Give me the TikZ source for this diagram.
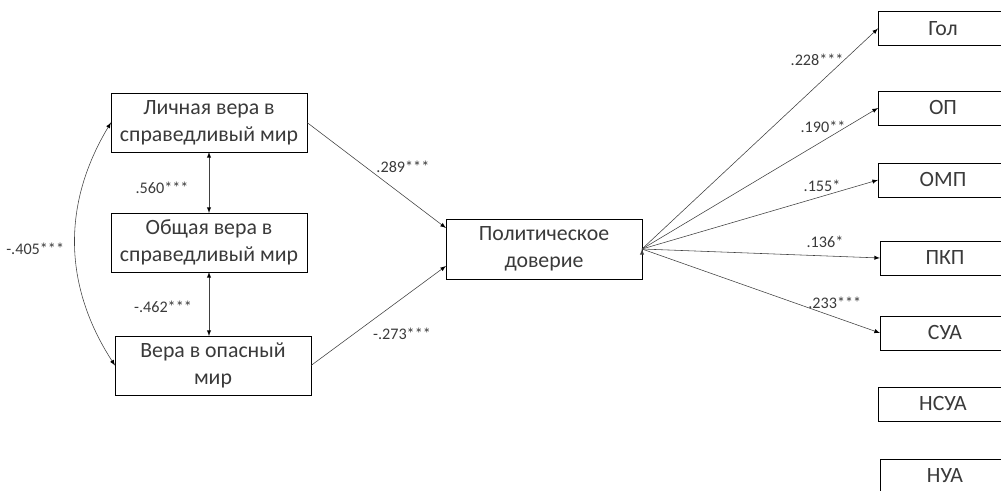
\documentclass[tikz,border=0pt]{standalone}
\usepackage{fontspec}
\setmainfont{Carlito}
\usepackage{xcolor}
\usetikzlibrary{arrows}
\usetikzlibrary{calc}
\usetikzlibrary{positioning}
\definecolor{txt}{HTML}{3A3A3A}

\begin{document}
\begin{tikzpicture}[x=0.025cm,y=-0.025cm,-latex,semithick]
	\tikzstyle{box}=[draw=black, thin, fill=white, text=txt, align=center, inner sep=0pt, outer sep=0pt, font=\fontsize{15.5}{19}\selectfont]
	\tikzstyle{big}=[box, minimum width=4.9cm, minimum height=1.475cm]
	\tikzstyle{small}=[box, minimum width=3.25cm, minimum height=0.85cm]
	\tikzstyle{lab}=[text=txt, inner sep=0pt, font=\fontsize{11.5}{13}\selectfont]
	\tikzstyle{line}=[draw=black!75, thin]
	\clip (0,0) rectangle (1001,491);
	\node[big] (lv) at (209,122.5) {Личная вера в\\справедливый мир};
	\node[big] (ov) at (209,242.5) {Общая вера в\\справедливый мир};
	\node[big] (om) at (213,365.5) {Вера в опасный\\мир};
	\node[big, minimum height=1.5cm] (pd) at (544,249) {Политическое\\доверие};
	\node[small] (gol) at (943,28.5) {Гол};
	\node[small] (op) at (943,108) {ОП};
	\node[small] (omp) at (943,180) {ОМП};
	\node[small] (pkp) at (945,258) {ПКП};
	\node[small] (sua) at (945,333) {СУА};
	\node[small] (nsua) at (943,404) {НСУА};
	\node[small] (nua) at (945,476) {НУА};

	\path[line]
		(lv.south) edge[latex-latex] node[lab, pos=0.59, shift={(-47,0)}] {.560***} (ov.north)
		(ov.south) edge[latex-latex] node[lab, pos=0.55, shift={(-46,0)}] {-.462***} (ov.south |- om.north)
		(lv.west) edge[latex-latex, bend right=32] node[lab, pos=0.5, shift={(-40,4)}] {-.405***} (om.west)
		(lv.east) edge node[lab, pos=0.69, shift={(0,-28)}] {.289***} ($(pd.west)+(0,-21)$)
		(om.east) edge node[lab, pos=0.674, shift={(0,35)}] {-.273***} ($(pd.west)+(0,17)$)
		(pd.east) edge node[lab, pos=0.742, shift={(0,-26)}] {.228***} (gol.west)
		(pd.east) edge node[lab, pos=0.767, shift={(0,-14)}] {.190**} (op.west)
		(pd.east) edge node[lab, pos=0.763, shift={(0,-11)}] {.155*} (omp.west)
		(pd.east) edge node[lab, pos=0.769, shift={(0,-14)}] {.136*} (pkp.west)
		(pd.east) edge node[lab, pos=0.81, shift={(0,-14)}] {.233***} (sua.west);
\end{tikzpicture}
\end{document}
